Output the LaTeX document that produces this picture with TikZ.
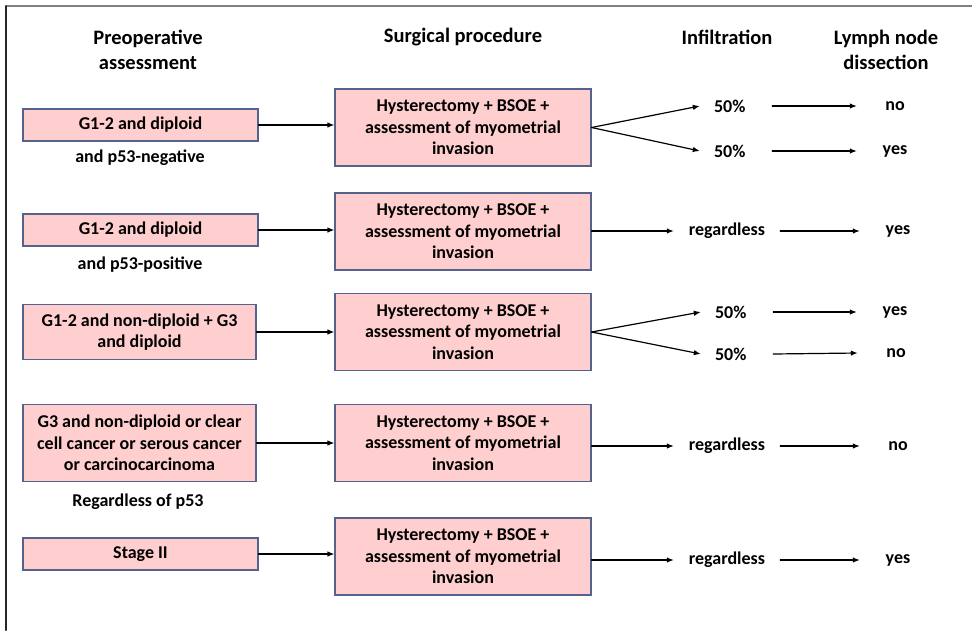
\documentclass[tikz,border=0pt]{standalone}
\usepackage{fontspec}
\setmainfont{Carlito}
\usetikzlibrary{arrows.meta}
\definecolor{boxpink}{RGB}{255,206,206}
\definecolor{boxedge}{RGB}{84,98,140}

\begin{document}
\begin{tikzpicture}[x=1pt,y=-1pt,line cap=round,
  font=\bfseries\fontsize{18}{21.5}\selectfont,
  crit/.style={draw=boxedge,fill=boxpink,line width=1.1pt,minimum width=235,inner sep=2pt,align=center},
  proc/.style={crit,minimum width=256,minimum height=77},
  head/.style={font=\bfseries\fontsize{20.5}{25}\selectfont,align=center},
  pct/.style={minimum width=72,text width=44,inner xsep=14,align=left},
  anyway/.style={minimum width=106},
  lymph/.style={minimum width=76},
  link/.style={-{Latex[length=7pt,width=5.5pt]},line width=1.2pt}]
  \useasboundingbox (0,0) rectangle (972,630);
  % frame
  \draw[gray,line width=2] (6,6) -- (972,6);
  \draw[black!85,line width=2] (6,6) -- (6,630);
  % column heads
  \node[head] (hpre) at (148,49.5) {Preoperative\\assessment};
  \node[head] (hsurg) at (463,37) {Surgical procedure};
  \node[head] (hinf) at (727,37) {Infiltration};
  \node[head] (hlym) at (886,49.5) {Lymph node\\dissection};
  % preoperative criteria
  \node[crit,minimum height=32] (l1) at (140.5,125) {G1-2 and diploid};
  \node (n1) at (140,158) {and p53-negative};
  \node[crit,minimum height=32] (l2) at (140.5,230) {G1-2 and diploid};
  \node (n2) at (140,265) {and p53-positive};
  \node[crit,minimum width=233,minimum height=55] (l3) at (139.5,332) {G1-2 and non-diploid + G3\\and diploid};
  \node[crit,minimum width=233,minimum height=77] (l4) at (139.5,443) {G3 and non-diploid or clear\\cell cancer or serous cancer\\or carcinocarcinoma};
  \node (n4) at (138,502) {Regardless of p53};
  \node[crit,minimum height=32] (l5) at (140.5,554) {Stage II};
  % surgical procedure
  \foreach \i/\y in {1/127.5,2/231.5,3/332,4/443,5/556.5}
    \node[proc] (m\i) at (463,\y) {Hysterectomy + BSOE +\\assessment of myometrial\\invasion};
  \foreach \i in {1,...,5}
    \draw[link] (l\i.east) -- (m\i.west |- l\i.east);
  % infiltration
  \node[pct] (i1a) at (736,106) {50\%};
  \node[pct] (i1b) at (736,151) {50\%};
  \node[anyway] (i2) at (727,231) {regardless};
  \node[pct] (i3a) at (737,312) {50\%};
  \node[pct] (i3b) at (737,354) {50\%};
  \node[anyway] (i4) at (727,446) {regardless};
  \node[anyway] (i5) at (727,560) {regardless};
  \draw[link] (m1.east) -- (i1a.west);
  \draw[link] (m1.east) -- (i1b.west);
  \draw[link] (m2.east |- i2) -- (i2.west);
  \draw[link] (m3.east) -- (i3a.west);
  \draw[link] (m3.east) -- (i3b.west);
  \draw[link] (m4.east |- i4) -- (i4.west);
  \draw[link] (m5.east |- i5) -- (i5.west);
  % lymph node dissection
  \node[lymph] (d1a) at (895,106) {no};
  \node[lymph] (d1b) at (895,151) {yes};
  \node[lymph] (d2) at (898,231) {yes};
  \node[lymph] (d3a) at (895,312) {yes};
  \node[lymph] (d3b) at (896,353) {no};
  \node[lymph] (d4) at (898,446) {no};
  \node[lymph] (d5) at (898,560) {yes};
  \foreach \a/\b in {i1a/d1a,i1b/d1b,i2/d2,i3a/d3a,i3b/d3b,i4/d4,i5/d5}
    \draw[link] (\a.east) -- (\b.west);
\end{tikzpicture}
\end{document}
